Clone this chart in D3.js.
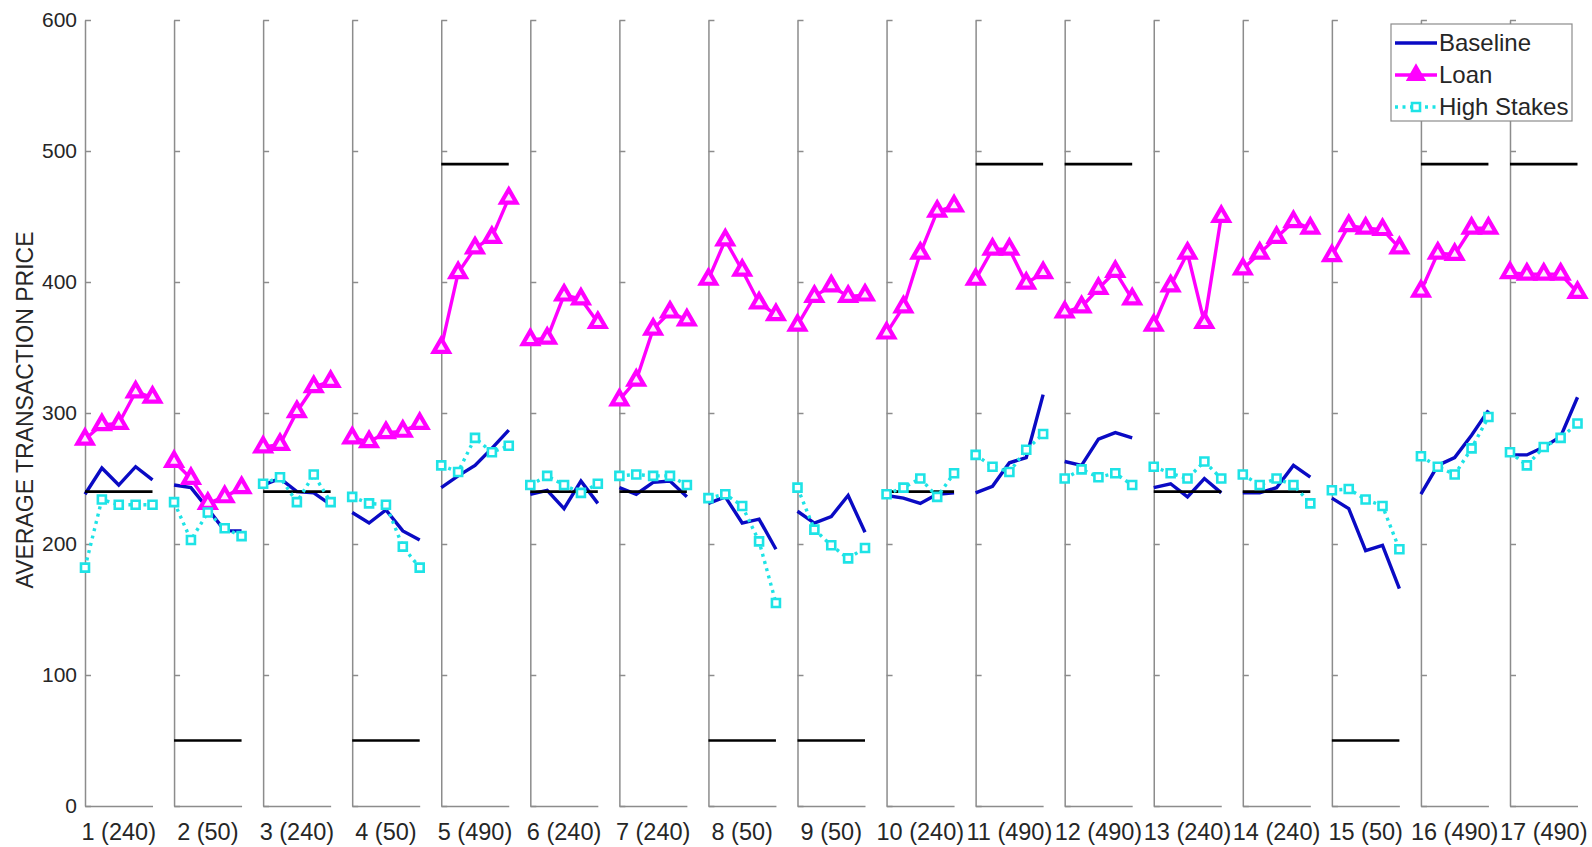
<html>
<script src='https://d3js.org/d3.v7.min.js'></script>
<style>
body {margin:0; background:#fff;}
text {font-family: 'Liberation Sans', Arial, sans-serif; fill:#262626;}
</style>
<body onload='init()'>
<svg width=1592 height=847></svg>
<script>
// markets: label and fundamental value
var rounds = ['1 (240)','2 (50)','3 (240)','4 (50)','5 (490)','6 (240)','7 (240)','8 (50)','9 (50)',
              '10 (240)','11 (490)','12 (490)','13 (240)','14 (240)','15 (50)','16 (490)','17 (490)'];
var fundamentals = [240,50,240,50,490,240,240,50,50,240,490,490,240,240,50,490,490];
var periods = [1,2,3,4,5];
var yTicks = [0,100,200,300,400,500,600];

var baseline = [
  [238,258,245,259,249],[245,243,227,210,210],[245,250,240,239,230],[224,216,226,210,203],
  [243,252,260,273,287],[238,241,227,248,231],[243,238,247,248,236],[231,236,216,219,196],
  [225,216,221,237,209],[237,235,231,238,239],[239,244,262,266,314],[263,260,280,285,281],
  [243,246,236,250,239],[239,239,243,260,251],[235,227,195,199,166],[238,260,266,283,302],
  [268,268,274,282,312]
];
var loan = [
  [280,291,292,316,312],[263,250,231,236,243],[274,276,301,320,324],[281,278,285,286,292],
  [350,407,426,434,464],[356,357,390,387,369],[310,325,364,377,371],[402,432,409,384,375],
  [367,389,397,389,390],[361,381,422,454,458],[402,425,425,399,407],[377,381,395,408,387],
  [367,397,422,369,450],[410,422,434,446,441],[420,443,441,440,426],[393,422,421,441,441],
  [407,406,406,406,392]
];
var highStakes = [
  [182,234,230,230,230],[232,203,224,212,206],[246,251,232,253,232],[236,231,230,198,182],
  [260,255,281,270,275],[245,252,245,239,246],[252,253,252,252,245],[235,238,229,202,155],
  [243,211,199,189,197],[238,243,250,236,254],[268,259,255,272,284],[250,257,251,254,245],
  [259,254,250,263,250],[253,245,250,245,231],[241,242,234,229,196],[267,259,253,273,297],
  [270,260,274,281,292]
];

var cBase = '#0a0ac4', cLoan = '#ff00ff', cHigh = '#1ee3e6', cAxis = '#8c8c8c';

function init() {
  var svg = d3.select('svg');

  var panel = d3.scaleBand()
      .domain(d3.range(rounds.length))
      .range([85, 1577.5])
      .paddingInner(0.242)
      .paddingOuter(0);
  var x = d3.scaleLinear().domain([1,5]).range([0, panel.bandwidth()]);
  var y = d3.scaleLinear().domain([0,600]).range([806,20]);

  // y tick labels only on the first panel
  svg.append('g')
    .attr('transform','translate('+panel(0)+',0)')
    .call(d3.axisLeft(y).tickValues(yTicks).tickSize(0).tickPadding(8))
    .call(g => g.select('.domain').remove())
    .selectAll('text').style('font-size','21px').attr('fill','#262626');

  svg.append('text')
    .attr('transform','translate(33,410) rotate(-90)')
    .attr('text-anchor','middle')
    .style('font-size','23px')
    .text('AVERAGE TRANSACTION PRICE');

  // round labels under each panel
  svg.append('g')
    .attr('transform','translate(0,806)')
    .call(d3.axisBottom(panel).tickSize(0).tickPadding(17).tickFormat(i => rounds[i]))
    .call(g => g.select('.domain').remove())
    .selectAll('text').style('font-size','23.5px').attr('fill','#262626');

  var line = d3.line().x((d,i) => x(periods[i])).y(d => y(d));

  rounds.forEach(function(r, i) {
    var g = svg.append('g').attr('transform','translate('+panel(i)+',0)');

    g.append('g')
      .call(d3.axisRight(y).tickValues(yTicks).tickSize(6).tickSizeOuter(0).tickFormat(''))
      .call(a => a.selectAll('path,line').attr('stroke',cAxis).attr('stroke-width',1.5));
    g.append('g')
      .attr('transform','translate(0,806)')
      .call(d3.axisBottom(x).tickValues([]).tickSizeOuter(0))
      .call(a => a.select('.domain').attr('stroke',cAxis).attr('stroke-width',1.5));

    g.append('path').datum(baseline[i]).attr('d', line)
      .attr('fill','none').attr('stroke',cBase).attr('stroke-width',3.4);

    g.append('line')
      .attr('x1', x(1)).attr('x2', x(5))
      .attr('y1', y(fundamentals[i])).attr('y2', y(fundamentals[i]))
      .attr('stroke','#000').attr('stroke-width',2.6);

    g.append('path').datum(loan[i]).attr('d', line)
      .attr('fill','none').attr('stroke',cLoan).attr('stroke-width',3.4);
    g.selectAll('.tri').data(loan[i]).enter().append('path')
      .attr('transform',(d,j) => 'translate('+x(periods[j])+','+y(d)+')')
      .attr('d', d3.symbol().type(d3.symbolTriangle).size(100))
      .attr('fill','#fde6fd').attr('stroke',cLoan).attr('stroke-width',4.2)
      .attr('stroke-linejoin','miter');

    g.append('path').datum(highStakes[i]).attr('d', line)
      .attr('fill','none').attr('stroke',cHigh).attr('stroke-width',3.4)
      .attr('stroke-dasharray','3,4.5');
    g.selectAll('.sq').data(highStakes[i]).enter().append('path')
      .attr('transform',(d,j) => 'translate('+x(periods[j])+','+y(d)+')')
      .attr('d', d3.symbol().type(d3.symbolSquare).size(64))
      .attr('fill','#fff').attr('stroke',cHigh).attr('stroke-width',2.6);
  });

  // legend
  var lg = svg.append('g').attr('transform','translate(1391,24)');
  lg.append('rect').attr('width',181).attr('height',97)
    .attr('fill','#fff').attr('stroke',cAxis).attr('stroke-width',1.2);
  var items = [
    {name:'Baseline', color:cBase, dash:null, mark:null},
    {name:'Loan', color:cLoan, dash:null, mark:d3.symbolTriangle},
    {name:'High Stakes', color:cHigh, dash:'3,4.5', mark:d3.symbolSquare}
  ];
  items.forEach(function(it, k) {
    var yy = 19 + k*32;
    lg.append('line').attr('x1',4).attr('x2',46).attr('y1',yy).attr('y2',yy)
      .attr('stroke',it.color).attr('stroke-width',3.4).attr('stroke-dasharray',it.dash);
    if (it.mark) {
      lg.append('path').attr('transform','translate(25,'+yy+')')
        .attr('d', d3.symbol().type(it.mark).size(it.mark == d3.symbolSquare ? 64 : 100))
        .attr('fill', it.mark == d3.symbolSquare ? '#fff' : it.color)
        .attr('stroke',it.color).attr('stroke-width', it.mark == d3.symbolSquare ? 2.6 : 3);
    }
    lg.append('text').attr('x',48).attr('y',yy).attr('dy','0.35em')
      .style('font-size','24px').text(it.name);
  });
}
</script>
</body>
</html>
